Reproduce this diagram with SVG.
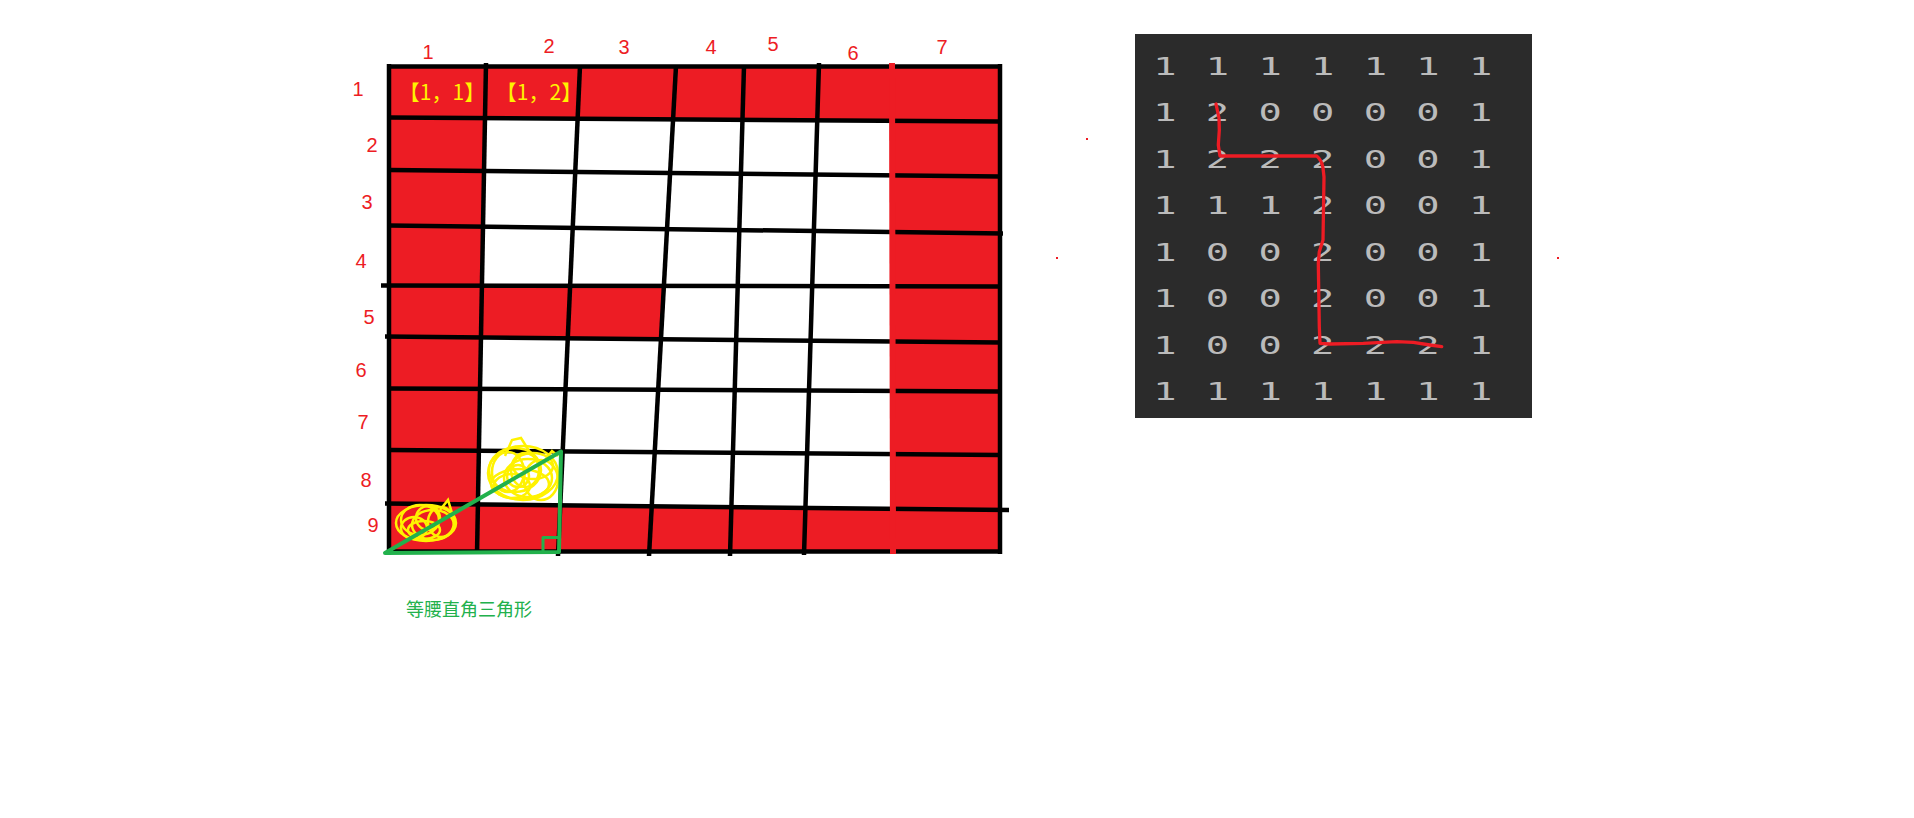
<svg xmlns="http://www.w3.org/2000/svg" width="1914" height="818" viewBox="0 0 1914 818">
<style>
.bg{fill:#ffffff}
.red{fill:#ED1C24}
.white{fill:#ffffff}
.gl{stroke:#000;stroke-width:4.5;stroke-linecap:butt;fill:none}
.rl{stroke:#ED1C24;stroke-width:6;fill:none}
.lbl{fill:#ED1C24;font-family:"Liberation Sans",Arial,sans-serif;font-size:20px;text-anchor:middle}
.yl{fill:#FFF200;font-family:"Noto Sans CJK SC","Liberation Sans",sans-serif;font-size:21px;text-anchor:middle}
.gr{stroke:#22B14C;stroke-width:4;fill:none;stroke-linecap:round;stroke-linejoin:round}
.scr{stroke:#FFF200;stroke-width:2.5;fill:none}
.num{fill:#BBBBBB;font-family:"DejaVu Sans Mono",monospace;font-size:25px;text-anchor:middle}
.gt{fill:#22B14C;font-family:"Noto Sans CJK SC",sans-serif;font-size:18px}
</style>
<rect class="bg" x="0" y="0" width="1914" height="818"/>

<g id="grid">
  <rect class="red" x="389" y="66" width="611" height="486"/>
  <polygon class="white" points="485,118 892,121 893,509 478,505"/>
  <polygon class="red" points="483,286 664,286 661,340 481,337"/>
</g>

<g id="connectors">
  <line class="gl" x1="387" y1="66.5" x2="1002" y2="66.5"/>
  <line class="gl" x1="389" y1="117.5" x2="1000" y2="121.5"/>
  <line class="gl" x1="389" y1="170" x2="1000" y2="176.5"/>
  <line class="gl" x1="389" y1="225.5" x2="1003" y2="233.5"/>
  <line class="gl" x1="381" y1="285.5" x2="1000" y2="286.5"/>
  <line class="gl" x1="385" y1="336.5" x2="1000" y2="342.5"/>
  <line class="gl" x1="389" y1="388.5" x2="1000" y2="391.5"/>
  <line class="gl" x1="389" y1="450" x2="1000" y2="455"/>
  <line class="gl" x1="385" y1="503.5" x2="1009" y2="510"/>
  <line class="gl" x1="387" y1="551.5" x2="1002" y2="551.5"/>
  <line class="gl" x1="389" y1="64" x2="389" y2="554"/>
  <line class="gl" x1="486" y1="63" x2="477" y2="554"/>
  <line class="gl" x1="580" y1="66" x2="558" y2="556"/>
  <line class="gl" x1="676" y1="66" x2="649" y2="556"/>
  <line class="gl" x1="744" y1="66" x2="730" y2="556"/>
  <line class="gl" x1="819" y1="63" x2="804" y2="555"/>
  <line class="gl" x1="1000" y1="64" x2="1000" y2="554"/>
  <line class="rl" x1="892" y1="63" x2="893" y2="554"/>
</g>

<g id="col-labels">
  <text class="lbl" x="428" y="59">1</text>
  <text class="lbl" x="549" y="53">2</text>
  <text class="lbl" x="624" y="54">3</text>
  <text class="lbl" x="711" y="54">4</text>
  <text class="lbl" x="773" y="51">5</text>
  <text class="lbl" x="853" y="60">6</text>
  <text class="lbl" x="942" y="54">7</text>
</g>
<g id="row-labels">
  <text class="lbl" x="358" y="96">1</text>
  <text class="lbl" x="372" y="152">2</text>
  <text class="lbl" x="367" y="209">3</text>
  <text class="lbl" x="361" y="268">4</text>
  <text class="lbl" x="369" y="324">5</text>
  <text class="lbl" x="361" y="377">6</text>
  <text class="lbl" x="363" y="429">7</text>
  <text class="lbl" x="366" y="487">8</text>
  <text class="lbl" x="373" y="532">9</text>
</g>

<g id="cell-labels">
  <text class="yl" x="442" y="100">【1，1】</text>
  <text class="yl" x="539" y="100">【1，2】</text>
</g>

<g id="scribbles">
  <ellipse class="scr" cx="523" cy="473" rx="35" ry="27"/>
  <ellipse class="scr" cx="515" cy="470" rx="26" ry="22"/>
  <ellipse class="scr" cx="528" cy="478" rx="24" ry="19"/>
  <ellipse class="scr" cx="520" cy="484" rx="29" ry="15"/>
  <ellipse class="scr" cx="508" cy="472" rx="16" ry="20"/>
  <ellipse class="scr" cx="533" cy="466" rx="20" ry="13"/>
  <ellipse class="scr" cx="518" cy="476" rx="11" ry="11"/>
  <ellipse class="scr" cx="541" cy="480" rx="17" ry="20"/>
  <ellipse class="scr" cx="525" cy="470" rx="14" ry="17"/>
  <ellipse class="scr" cx="512" cy="486" rx="18" ry="12"/>
  <path class="scr" d="M505,456 L512,440 L521,438 L531,454"/>
  <path class="scr" d="M545,460 L552,451 L558,456"/>
  <ellipse class="scr" cx="426" cy="523" rx="30" ry="18"/>
  <ellipse class="scr" cx="420" cy="520" rx="19" ry="15"/>
  <ellipse class="scr" cx="433" cy="525" rx="21" ry="15"/>
  <ellipse class="scr" cx="428" cy="518" rx="12" ry="12"/>
  <ellipse class="scr" cx="414" cy="528" rx="13" ry="11"/>
  <ellipse class="scr" cx="441" cy="522" rx="13" ry="15"/>
  <ellipse class="scr" cx="424" cy="530" rx="16" ry="9"/>
  <path class="scr" d="M440,510 L448,500 L452,513"/>
</g>

<g id="triangle">
  <path class="gr" d="M385,553 L561,451.5 L559,552 Z"/>
  <path class="gr" style="stroke-width:3" d="M543,552 L543,537.5 L559,537.5"/>
</g>
<g id="triangle-label">
  <text class="gt" x="406" y="616">等腰直角三角形</text>
</g>

<g id="matrix">
  <rect x="1135" y="34" width="397" height="384" fill="#2B2B2B"/>
  <g transform="scale(1.55,1)">
    <text class="num" x="751.6 785.5 819.5 853.4 887.4 921.3 955.2" y="75">1111111</text>
    <text class="num" x="751.6 785.5 819.5 853.4 887.4 921.3 955.2" y="121.5">1200001</text>
    <text class="num" x="751.6 785.5 819.5 853.4 887.4 921.3 955.2" y="168">1222001</text>
    <text class="num" x="751.6 785.5 819.5 853.4 887.4 921.3 955.2" y="214.5">1112001</text>
    <text class="num" x="751.6 785.5 819.5 853.4 887.4 921.3 955.2" y="261">1002001</text>
    <text class="num" x="751.6 785.5 819.5 853.4 887.4 921.3 955.2" y="307.5">1002001</text>
    <text class="num" x="751.6 785.5 819.5 853.4 887.4 921.3 955.2" y="354">1002221</text>
    <text class="num" x="751.6 785.5 819.5 853.4 887.4 921.3 955.2" y="400.5">1111111</text>
  </g>
</g>
<g id="path">
  <path d="M1216,104 L1219,118 L1219.3,130 L1218.3,145 L1220,156 L1316.7,156 Q1321.7,160 1323,168 L1324,177 L1323,240 L1319.3,251.7 L1318.3,263.3 L1319.3,326.7 L1320,343.3 L1330,344 L1363.3,343.3 L1396.7,341.7 L1413.3,342.3 L1430,345 L1441.7,346.7" fill="none" stroke="#ED1C24" stroke-width="3.3" stroke-linejoin="round" stroke-linecap="round"/>
</g>
<g id="dots">
  <rect class="red" x="1086" y="138" width="2" height="2"/>
  <rect class="red" x="1056" y="257" width="2" height="2"/>
  <rect class="red" x="1557" y="257" width="2" height="2"/>
</g>
</svg>
